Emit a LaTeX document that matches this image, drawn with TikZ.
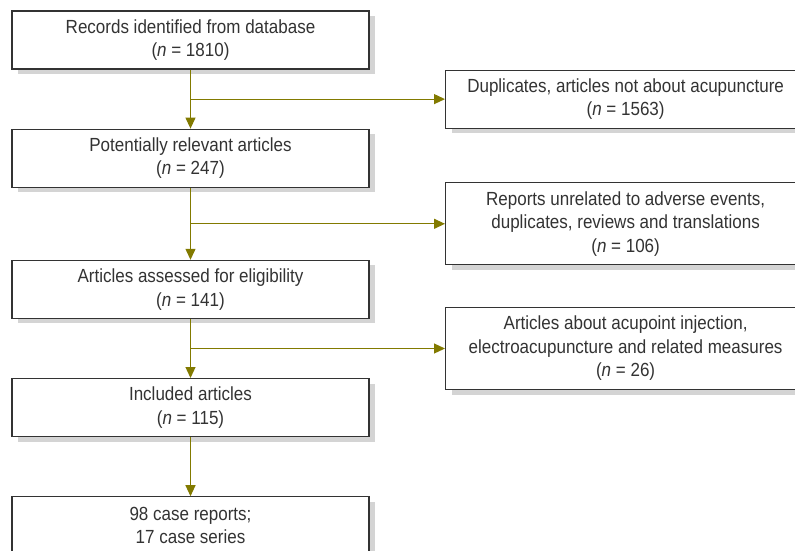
\documentclass[tikz,border=0pt]{standalone}
\usepackage{fontspec}
\setmainfont{Liberation Sans}[FakeStretch=0.895]
\usepackage{tikz}
\usetikzlibrary{arrows.meta}
\usetikzlibrary{calc}
\usetikzlibrary{positioning}
\usetikzlibrary{shadows}
\definecolor{flowolive}{RGB}{130,122,0}
\definecolor{boxline}{RGB}{51,51,51}
\definecolor{shadowgray}{RGB}{212,212,212}

\begin{document}
\begin{tikzpicture}[x=1pt, y=1pt,
    font=\fontsize{19}{23.5}\selectfont,
    text=black!80,
    mainbox/.style={shape=rectangle,
      draw=boxline,
      line width=1.2pt,
      fill=white,
      minimum width=357pt,
      minimum height=58pt,
      inner sep=0pt,
      align=center,
      drop shadow={shadow xshift=6pt, shadow yshift=-5pt,
        fill=shadowgray, opacity=1}},
    sidebox/.style={mainbox, minimum width=360pt, anchor=west},
    flow/.style={draw=flowolive, line width=1.2pt,
      -{Triangle[length=11pt, width=10pt]}}]

    \path [use as bounding box] (0,0) rectangle (795,-550);

    \node[name=records, mainbox] at (190.5,-40)
      {Records identified from database\\(\textit{n} = 1810)};

    \node[name=relevant, mainbox, below=59pt of records]
      {Potentially relevant articles\\(\textit{n} = 247)};

    \node[name=assessed, mainbox, below=72pt of relevant]
      {Articles assessed for eligibility\\(\textit{n} = 141)};

    \node[name=included, mainbox, below=59pt of assessed]
      {Included articles\\(\textit{n} = 115)};

    \node[name=cases, mainbox, minimum height=57pt, below=59pt of included]
      {98 case reports;\\17 case series};

    % branch points on the main line
    \coordinate (split1) at ($(records.south)!0.5!(relevant.north)$);
    \coordinate (split2) at ($(relevant.south)!0.5!(assessed.north)$);
    \coordinate (split3) at ($(assessed.south)!0.5!(included.north)$);

    \node[name=duplicates, sidebox] at ($(split1)+(254.5,0)$)
      {Duplicates, articles not about acupuncture\\(\textit{n} = 1563)};

    \node[name=unrelated, sidebox, minimum height=82pt] at ($(split2)+(254.5,0)$)
      {Reports unrelated to adverse events,\\duplicates, reviews and translations\\(\textit{n} = 106)};

    \node[name=injection, sidebox, minimum height=82pt] at ($(split3)+(254.5,0)$)
      {Articles about acupoint injection,\\electroacupuncture and related measures\\(\textit{n} = 26)};

    \path (records) edge[flow] (relevant);
    \path (relevant) edge[flow] (assessed);
    \path (assessed) edge[flow] (included);
    \path (included) edge[flow] (cases);

    \path (split1) edge[flow] (duplicates);
    \path (split2) edge[flow] (unrelated);
    \path (split3) edge[flow] (injection);

  \end{tikzpicture}
\end{document}
